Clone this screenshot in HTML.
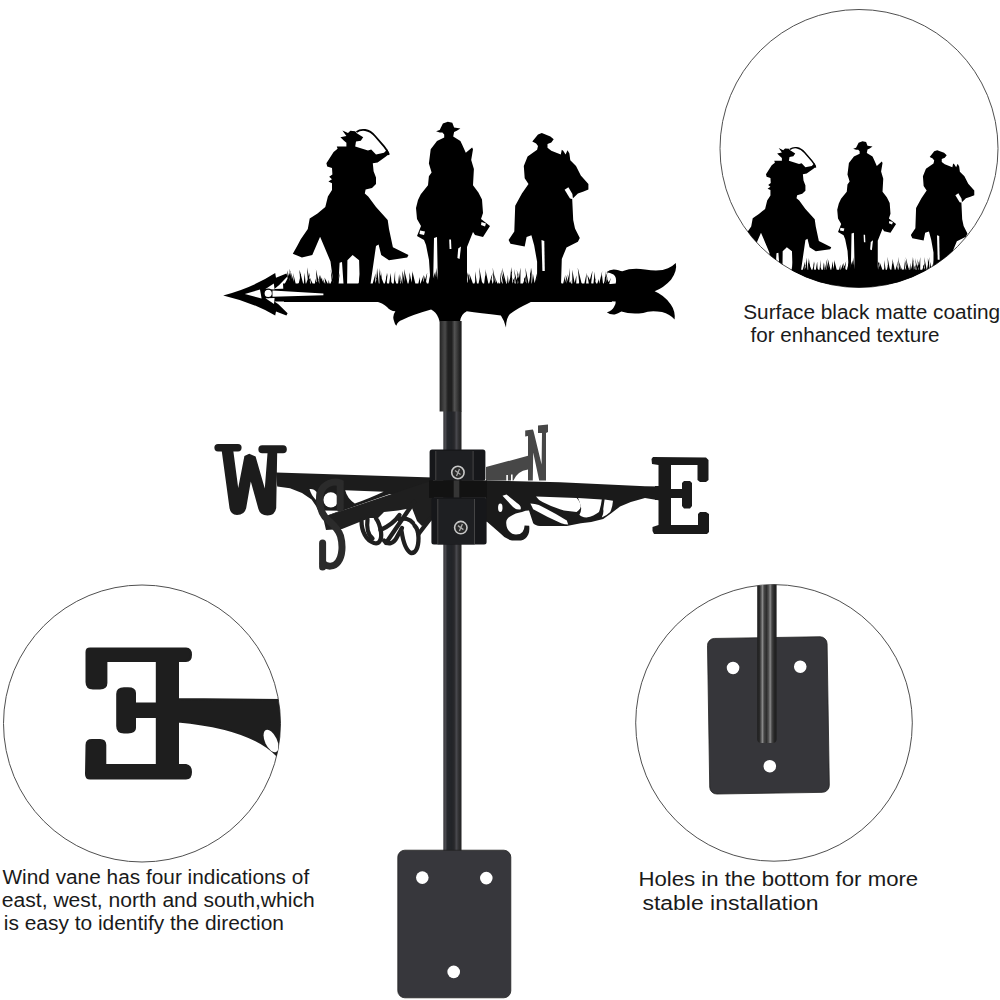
<!DOCTYPE html>
<html><head><meta charset="utf-8">
<style>
html,body{margin:0;padding:0;background:#fff;width:1000px;height:1000px;overflow:hidden}
svg{display:block}
text{font-family:"Liberation Sans",sans-serif;fill:#1a1a1a}
</style></head>
<body>
<svg width="1000" height="1000" viewBox="0 0 1000 1000">
<defs>
  <clipPath id="c1"><circle cx="859" cy="148.5" r="139"/></clipPath>
  <clipPath id="c2"><circle cx="142" cy="723.5" r="138.5"/></clipPath>
  <clipPath id="c3"><circle cx="774" cy="722.9" r="138.3"/></clipPath>
  <linearGradient id="pipe" x1="0" x2="1" y1="0" y2="0">
    <stop offset="0" stop-color="#3a3a3e"/><stop offset="0.12" stop-color="#48484d"/><stop offset="0.22" stop-color="#26282c"/><stop offset="0.45" stop-color="#222428"/><stop offset="0.6" stop-color="#28282b"/><stop offset="0.72" stop-color="#48484d"/><stop offset="0.85" stop-color="#303032"/><stop offset="1" stop-color="#222"/>
  </linearGradient>
  <linearGradient id="pipe2" x1="0" x2="1" y1="0" y2="0">
    <stop offset="0" stop-color="#222"/><stop offset="0.15" stop-color="#3c3c3c"/><stop offset="0.25" stop-color="#4a4a4a"/><stop offset="0.38" stop-color="#202020"/><stop offset="0.55" stop-color="#202020"/><stop offset="0.68" stop-color="#525252"/><stop offset="0.8" stop-color="#3a3a3a"/><stop offset="0.9" stop-color="#252525"/><stop offset="1" stop-color="#1c1c1c"/>
  </linearGradient>
  <linearGradient id="pipe3" x1="0" x2="1" y1="0" y2="0">
    <stop offset="0" stop-color="#1e1e1e"/><stop offset="0.12" stop-color="#2a2a2a"/><stop offset="0.2" stop-color="#555"/><stop offset="0.27" stop-color="#8a8a8a"/><stop offset="0.36" stop-color="#444"/><stop offset="0.48" stop-color="#2e2e2e"/><stop offset="0.6" stop-color="#555"/><stop offset="0.67" stop-color="#8a8a8a"/><stop offset="0.76" stop-color="#444"/><stop offset="0.88" stop-color="#262626"/><stop offset="1" stop-color="#1e1e1e"/>
  </linearGradient>
  <g id="riders">
    <!-- rider 1 -->
    <path d="M342.4,130.4 L346.4,136 L340.4,137.2 L344,140.8 L346.4,142.8 L346.4,146.4 L336.8,146.4 L337.6,148.8 L333.6,152 L326.4,163.2 L327.2,166.4 L332,168 L332.4,174.4 L329.2,176.8 L332,179.2 L328.4,181.6 L332,183.2 L332,190 L327.9,196.5 L325.3,206.9 L317.5,213.4 L309.7,218.6 L307.8,229 L300.6,239.4 L298,244.6 L292.8,253.7 L301.9,257.6 L312.3,255 L320.1,236.8 L324,245.9 L330.5,261.5 L334.4,291 L338,291 L339.6,262.8 L342,262 L344,291 L347,291 L347.4,260.2 L352.6,255 L359.1,260.2 L360,291 L369.5,291 L376,245.9 L378.6,244.6 L381.2,255 L389,260.2 L407.2,257.6 L408.5,255 L392.9,247.2 L389,229 L387.7,219.9 L376,206.9 L368.2,196.5 L364.8,193.6 L365.6,189.6 L372,188 L376,184 L376,177.6 L373.6,171.2 L372.8,163.2 L377.6,162.4 L385.6,156.8 L389.6,153.6 L387.2,149.6 L384,152.8 L376,154.4 L371.2,149.6 L368,150.4 L355.2,146.4 L356,141.6 L360.8,140.8 L363.2,137.2 L356.8,133.2 L355.2,131.2 L350.4,130.8 L348,133 Z"/>
    <path d="M356.5,132 C361,128.5 369,128.8 375,136 L384,146.4 Q388,151 388.8,155" fill="none" stroke="#000" stroke-width="1.8"/>
    <!-- rider 2 -->
    <path d="M436.1,131.2 L439.7,129.9 L442.9,123.6 L447.8,121.8 L452.3,122.7 L454.1,127.6 L460.4,128.5 L456.8,130.8 L454.1,132.1 L453.2,136.6 L460.4,141.1 L462.2,144.7 L465.8,152.8 L472.1,147.4 L473,149.2 L471.2,160 L473.9,169 L473,185.2 L478.4,192.4 L482,199.6 L483,213 L481,219 L490,226 L483,237 L475,235 L473,232 L467,247 L467,291 L438,291 L437,237 L434,238 L433,291 L428,291 L430,275 L429,260 L426,245 L424,240 L417,236 L419,231 L421,226 L417,219 L416,208 L418,200 L420.8,194.2 L428,185.2 L428.9,176.2 L431.6,172.6 L428.9,163.6 L430.7,149.2 L437,141.1 L444.2,137.5 L444.2,134.4 L442.4,132.6 L439.7,132.6 Z"/>
    <!-- rider 3 -->
    <path d="M532.3,141.6 L538,134.5 L541.8,133.1 L550.4,136.4 L553.7,139.3 L551.3,142.6 L547.5,144 L547.5,147.8 L551.3,150.7 L560.8,154.5 L561.8,149.7 L563.2,150.7 L565.6,154.5 L567.5,150.2 L569.4,153.5 L570.3,160.2 L576,165.9 L580.8,175.4 L588.4,183.9 L588.4,189.6 L583.6,191.5 L577.9,193.4 L572.2,199.1 L573.2,220 L575,228.5 L579.8,238 L577.9,241.8 L566.5,247.5 L561.8,258.9 L560.8,291 L537.1,291 L537.1,261.8 L534.2,245.6 L531.4,235.2 L526.6,237 L524.7,246.6 L510.5,243.7 L508.6,239.9 L514.3,231.4 L515.2,205.7 L521.9,193.4 L528.5,183.9 L524.7,178.2 L523.8,165.9 L527.6,156.4 L537.1,149.7 L538,145.9 L536.1,143.5 Z"/>
    <!-- small white details -->
    <g fill="#fff">
      <path d="M541.5,240 L544.3,241 L544.8,271 L542.4,271 Z"/>
      <path d="M564.6,189.8 L568.4,187.2 L572.4,194 L573,199.2 L570,198.4 Z"/>
      <path d="M449.2,239.5 L451,239.5 L451.4,249 L449.6,249 Z"/>
      <path d="M458.2,248.5 L461,246.5 L459.6,259 L457.4,258 Z"/>
      <path d="M420,230.5 L425,231.5 L424,235 L419.5,234 Z"/>
      <path d="M481.5,222 L486,223.5 L485,226.5 L481,225 Z"/>
    </g>
    <!-- grass band -->
    <path d="M283.0,287 L288.1,277.6 L286.0,287 Z M285.2,287 L290.5,270.3 L288.8,287 Z M287.6,287 L287.4,270.3 L291.2,287 Z M289.9,287 L289.6,268.5 L292.9,287 Z M292.2,287 L291.0,272.6 L295.5,287 Z M294.4,287 L293.1,273.1 L296.5,287 Z M295.5,287 L301.1,279.7 L299.3,287 Z M297.9,287 L301.0,273.6 L301.1,287 Z M300.4,287 L299.5,269.5 L304.0,287 Z M302.2,287 L299.2,271.2 L304.1,287 Z M303.5,287 L304.6,272.7 L306.0,287 Z M304.9,287 L310.1,272.4 L307.7,287 Z M306.2,287 L310.1,278.1 L309.5,287 Z M308.1,287 L307.0,267.3 L311.0,287 Z M310.4,287 L315.0,283.6 L312.6,287 Z M311.7,287 L309.8,277.4 L314.2,287 Z M313.4,287 L318.7,278.2 L316.8,287 Z M315.1,287 L315.0,278.4 L317.6,287 Z M317.0,287 L315.9,269.2 L319.9,287 Z M318.4,287 L316.7,279.0 L320.5,287 Z M319.4,287 L319.1,274.8 L323.1,287 Z M321.8,287 L320.0,275.0 L325.3,287 Z M324.5,287 L322.5,277.9 L326.4,287 Z M325.8,287 L324.5,277.5 L329.5,287 Z M328.0,287 L328.7,279.8 L330.1,287 Z M329.7,287 L331.4,280.7 L333.2,287 Z M332.2,287 L330.7,269.8 L334.9,287 Z M333.8,287 L335.7,281.8 L337.6,287 Z M335.9,287 L339.9,272.5 L337.9,287 Z M356.0,287 L359.0,282.2 L359.4,287 Z M358.4,287 L359.6,274.0 L360.9,287 Z M360.2,287 L363.0,273.6 L363.4,287 Z M362.3,287 L364.6,273.8 L364.1,287 Z M363.4,287 L363.9,277.6 L366.9,287 Z M365.7,287 L370.1,280.1 L369.0,287 Z M368.2,287 L369.9,283.7 L371.4,287 Z M370.2,287 L371.1,283.6 L372.4,287 Z M371.7,287 L375.6,273.2 L374.9,287 Z M373.8,287 L377.6,276.4 L377.0,287 Z M375.9,287 L377.1,268.1 L379.2,287 Z M378.1,287 L375.6,276.4 L380.4,287 Z M379.5,287 L379.2,267.9 L381.8,287 Z M380.7,287 L380.8,270.3 L382.8,287 Z M382.1,287 L379.6,273.3 L385.1,287 Z M383.9,287 L387.7,272.8 L386.2,287 Z M385.2,287 L386.5,272.7 L387.1,287 Z M386.3,287 L387.1,282.9 L389.3,287 Z M388.5,287 L390.8,273.0 L391.6,287 Z M390.5,287 L391.2,281.7 L394.2,287 Z M393.3,287 L395.1,271.0 L395.1,287 Z M394.2,287 L395.2,280.3 L397.3,287 Z M395.8,287 L400.7,280.3 L398.2,287 Z M397.7,287 L399.1,273.9 L400.7,287 Z M399.5,287 L399.0,281.0 L401.9,287 Z M401.0,287 L400.3,275.1 L403.0,287 Z M402.4,287 L402.4,270.7 L405.9,287 Z M405.1,287 L404.0,268.9 L408.5,287 Z M407.8,287 L410.1,275.3 L410.2,287 Z M409.4,287 L409.4,272.3 L412.7,287 Z M411.5,287 L412.4,270.7 L413.9,287 Z M412.9,287 L412.6,272.3 L416.2,287 Z M414.9,287 L412.8,281.3 L418.5,287 Z M417.5,287 L419.9,277.0 L420.2,287 Z M419.2,287 L423.8,274.7 L422.8,287 Z M421.0,287 L424.9,278.4 L423.4,287 Z M422.7,287 L427.3,272.5 L425.4,287 Z M424.0,287 L424.1,275.5 L426.8,287 Z M425.4,287 L424.8,278.4 L428.4,287 Z M427.6,287 L431.1,272.2 L431.0,287 Z M430.3,287 L434.9,272.3 L434.1,287 Z M432.3,287 L430.9,282.3 L435.4,287 Z M434.0,287 L435.1,271.3 L437.6,287 Z M435.8,287 L436.4,267.8 L438.9,287 Z M437.3,287 L441.3,277.2 L439.2,287 Z M438.2,287 L439.5,271.2 L440.9,287 Z M440.3,287 L438.8,271.9 L442.9,287 Z M461.0,287 L463.4,281.3 L463.8,287 Z M462.5,287 L464.1,272.3 L465.4,287 Z M464.0,287 L462.5,277.2 L466.2,287 Z M465.6,287 L463.8,271.7 L468.7,287 Z M467.1,287 L468.4,273.1 L470.1,287 Z M468.8,287 L466.9,272.1 L472.2,287 Z M470.5,287 L469.3,273.6 L474.2,287 Z M473.4,287 L476.0,278.8 L476.5,287 Z M475.2,287 L475.1,271.3 L477.5,287 Z M476.5,287 L480.0,281.9 L478.6,287 Z M477.8,287 L480.1,276.1 L481.3,287 Z M480.3,287 L479.2,267.2 L482.9,287 Z M481.5,287 L479.3,277.3 L485.0,287 Z M483.7,287 L485.2,275.0 L487.2,287 Z M485.4,287 L485.5,269.6 L487.5,287 Z M487.0,287 L485.3,268.9 L489.1,287 Z M488.2,287 L492.7,272.2 L490.4,287 Z M489.5,287 L491.1,276.7 L493.1,287 Z M492.3,287 L494.8,274.0 L494.4,287 Z M493.8,287 L492.7,267.2 L495.9,287 Z M494.8,287 L494.6,280.2 L497.4,287 Z M496.4,287 L494.9,277.0 L498.8,287 Z M497.7,287 L498.7,281.9 L500.8,287 Z M500.1,287 L500.3,272.5 L502.0,287 Z M501.0,287 L501.2,281.1 L503.9,287 Z M502.4,287 L506.8,280.9 L504.3,287 Z M503.3,287 L500.9,269.8 L505.6,287 Z M504.5,287 L502.1,267.4 L507.1,287 Z M506.6,287 L507.9,274.8 L508.8,287 Z M507.6,287 L512.2,270.8 L510.1,287 Z M509.2,287 L511.3,267.1 L512.7,287 Z M511.4,287 L514.7,276.4 L514.4,287 Z M513.7,287 L512.7,277.8 L516.1,287 Z M514.9,287 L518.6,272.4 L517.3,287 Z M516.2,287 L513.9,268.7 L518.3,287 Z M517.5,287 L520.5,267.4 L520.4,287 Z M518.8,287 L516.7,269.6 L521.0,287 Z M520.1,287 L524.5,281.3 L522.6,287 Z M521.8,287 L526.0,275.1 L525.1,287 Z M524.0,287 L524.0,276.9 L527.8,287 Z M526.8,287 L525.4,267.5 L529.3,287 Z M528.2,287 L531.8,267.4 L531.3,287 Z M530.2,287 L530.0,267.9 L532.0,287 Z M531.6,287 L532.9,273.6 L535.3,287 Z M533.7,287 L537.6,271.1 L536.2,287 Z M535.5,287 L538.1,273.2 L537.4,287 Z M536.7,287 L537.0,278.7 L540.3,287 Z M539.5,287 L543.0,275.1 L542.2,287 Z M557.0,287 L555.3,281.6 L559.9,287 Z M559.1,287 L556.7,273.8 L561.7,287 Z M560.8,287 L559.9,280.4 L563.6,287 Z M562.3,287 L565.4,274.5 L564.5,287 Z M563.5,287 L567.5,273.9 L566.0,287 Z M565.4,287 L569.6,273.0 L568.4,287 Z M567.3,287 L570.0,267.7 L569.1,287 Z M568.7,287 L571.3,279.9 L570.9,287 Z M570.4,287 L568.0,280.3 L573.4,287 Z M572.3,287 L572.3,269.7 L575.3,287 Z M573.6,287 L576.5,275.3 L576.1,287 Z M575.1,287 L578.5,283.5 L578.8,287 Z M577.7,287 L579.8,280.2 L580.5,287 Z M579.6,287 L577.7,267.5 L582.5,287 Z M581.3,287 L581.2,282.3 L584.2,287 Z M583.6,287 L586.8,272.5 L585.9,287 Z M585.2,287 L589.7,282.1 L588.9,287 Z M587.8,287 L592.5,270.6 L590.8,287 Z M589.4,287 L587.3,274.8 L593.2,287 Z M591.6,287 L596.0,278.3 L593.8,287 Z M593.0,287 L594.8,271.8 L595.6,287 Z M594.8,287 L594.6,279.3 L597.4,287 Z M596.2,287 L598.8,279.0 L599.3,287 Z M598.4,287 L602.2,271.0 L600.7,287 Z M600.1,287 L602.0,275.0 L603.4,287 Z M602.6,287 L607.6,271.2 L605.0,287 Z M603.9,287 L605.6,270.9 L605.7,287 Z M604.8,287 L607.4,276.5 L607.0,287 Z M606.4,287 L611.0,277.8 L608.3,287 Z M607.4,287 L607.0,278.5 L610.9,287 Z M283,283.5 L608,283.5 L612,302 L284,302 Z"/>
  </g>
</defs>

<!-- circles -->
<circle cx="859" cy="148.5" r="139" fill="none" stroke="#505050" stroke-width="1"/>
<circle cx="142" cy="723.5" r="138.5" fill="none" stroke="#505050" stroke-width="1"/>
<circle cx="774" cy="722.9" r="138.3" fill="none" stroke="#505050" stroke-width="1"/>

<!-- main vane top -->
<g fill="#000">
  <use href="#riders"/>
  <!-- arrowhead -->
  <path d="M223.2,295.4 Q252,288 275.2,273 L276,277.8 L286.4,273.4 L287.6,276.2 L279.2,285 L274.4,289 L290,288.6 L290,301.6 L274.4,301.4 L278.4,304.2 L287.6,313.2 L286.4,315.6 L276,311.4 L275.2,315.6 Q252,302 223.2,295.4 Z"/>
  <path d="M244.8,294 L260,289.5 L261.6,298.6 Z" fill="#fff"/>
  <path d="M265.5,289 L273.8,283.6 L274.6,289.4 Z" fill="#fff"/>
  <path d="M265.5,298.2 L274.6,298 L274,304 Z" fill="#fff"/>
  <circle cx="268.2" cy="293.4" r="4.2" fill="#fff" stroke="#000" stroke-width="1.2"/>
  <path d="M272.5,290.6 L323.4,293.4 L323.4,295.2 L272.5,296.8 Z" fill="#fff"/>
  <!-- tail -->
  <path d="M590,286 L615.7,283.5 Q617,277 613.5,274.5 Q610,272.8 606.4,272.3 Q611,268 618.5,270.2 Q621,271 622.3,271.2 Q632,267.5 645,269.5 Q660,272 668,268.3 Q673,266 675.8,263.1 Q677.5,271 671,279.7 Q664,287.5 654.6,291.3 Q664,295 670.8,304.4 Q675.5,311 674.6,319.6 Q670,314 662,312 Q650,310 643.2,313 Q630,314.5 621.4,311.5 Q618,313.5 614.7,314.4 Q610,314.8 606.8,312.2 Q612,311 614,307 Q616,304 615.7,301.6 L590,300.6 Z"/>
  <!-- ornament under -->
  <path d="M368,299 L375,301 Q383,303 387,307 Q390,311 395.4,311.3 Q392,316 394,321 Q395,325 396.3,325.7 Q398,321 402,320 Q412,315 431.1,309.6 Q436,312 438.5,318 L439.6,321.5 L460,321.5 Q461,314 466.8,311.3 Q480,313 500.9,315.5 Q504,320 506,327.4 Q506,318 510,314 Q520,307 528,303.6 Q534,300 545,296.8 L550,295 L368,295 Z"/>
</g>

<!-- top-right circle content -->
<g clip-path="url(#c1)">
  <use href="#riders" transform="matrix(0.795,0,0,0.795,506.5,44.4)"/>
  <rect x="700" y="270" width="300" height="40" fill="#000"/>
</g>

<!-- pole -->
<rect x="443.3" y="411" width="18.2" height="445" fill="url(#pipe)"/>
<rect x="439.6" y="321" width="22" height="90.5" fill="url(#pipe2)"/>

<!-- ===== compass ===== -->
<!-- N arm + N (gray, behind) -->
<g fill="#474747">
  <path d="M486,467 L528,455.8 L528,469.4 Q517,471 513.4,480.6 L486,480.6 Z"/>
  <path d="M528,480.6 L528,436 L525.2,436.6 L525.2,430.5 L532.8,429.4 L533.5,431 L541.6,464.6 L542,433 L538,433 L538,425.5 L548,424.6 L548,432 L546,433 L546,480.6 L539.2,480.6 L533.2,452.6 L532.8,480.6 Z"/>
</g>
<g fill="#fff"><rect x="506.3" y="475" width="1.6" height="6"/><rect x="511" y="474.5" width="1.6" height="6.5"/></g>
<!-- W arm bar (behind S) -->
<path fill="#1c1c1c" d="M276,472.6 L433,477.6 L433,500 L390,494 L326,516.4 L320,514 L316,506 L311.6,499.4 L302,493 L290,488.2 L277.2,486.6 Z"/>
<g fill="#fff">
  <path d="M309.5,489 Q314,488.5 316.5,492 L316,500 Q311,495 309.5,489 Z"/>
  <ellipse cx="330.8" cy="499.8" rx="7.4" ry="7.6"/>
  <path d="M345.2,490.2 L383.6,491.8 Q368,499 354.8,503.6 Q347,498 345.2,490.2 Z"/>
  <path d="M322.5,510.5 L340,510.8 L324,516.8 Z"/>
</g>
<!-- S arm (diagonal, front) with filigree -->
<path fill="#1f1f1f" d="M323,517 L429,481.5 L434,481 L434,519 L422,526 L417,521 L412,508 L398,510.5 L384,512 L378,518 L370,518 L362,521 L342,529 L326,530 Z"/>
<g fill="none" stroke="#1f1f1f" stroke-width="4.3" stroke-linecap="round">
  <path d="M361.5,521 C361.5,531 366,540.5 374,543 C379,544.5 382,540 381,532 C380,526 378,521 376,518.5"/>
  <path d="M367.5,519.5 C366.5,527 368,535 372.5,538.5"/>
  <path d="M380.5,530 C386,527.5 394,523 399.5,515"/>
  <path d="M386,543 L414,502"/>
  <path d="M384,540.5 C388,545 393.5,544 397,537 C399,533 401,530 402,528"/>
  <path d="M401.5,531 C403,541 406,550.5 411,553 C416,553.5 418.5,547 418.5,538 C418.5,532 417,528 414.5,525.5"/>
  <path d="M399.5,519.5 C404,517.5 410,519 413,523"/>
  <path d="M418.5,534 L430,519"/>
</g>
<!-- S letter -->
<g fill="none" stroke="#2b2b2b" stroke-width="7" stroke-linecap="round">
  <path d="M340.2,508 L340.2,483 C333.5,480 323.5,484 320.8,492 C318.5,500 319.5,510 325,517 C330,522.5 338,527 340.5,536 C343,545 342.5,556 338,562 C334,567.5 327,567 323.2,563.5"/>
  <path d="M322.6,543 L322.6,567"/>
</g>
<!-- E arm -->
<path fill="#1a1a1a" d="M486,480.6 L560,482.2 L645,486.3 L660,486.5 L660,500.6 L645,498 Q632,501 620,506.4 Q612,513 603.2,519 Q592,522.5 580.8,523.2 L566.8,526 L540,526 Q535,525.5 533.2,523.2 L529,510.6 Q526,510.5 522,512 Q515,513 511,516 Q506,518.5 506.2,523 Q506.5,528.5 509,531 Q512,534.5 516,534.6 Q520.5,534.5 522.5,532 Q524.5,529 524.6,525.6 L529.2,525.8 Q529.8,531 528.3,534.6 Q526,539.5 521,540.6 L512,540.6 Q505,539 500.5,533.5 L487,521.8 L486,521.8 Z"/>
<g fill="#fff">
  <ellipse cx="500.3" cy="507.8" rx="2.2" ry="4.2"/>
  <path d="M502.5,495.8 L506.5,494.5 L517,503 Q522,506 520.5,509.5 Q516,510 513,507 Z"/>
  <path d="M536,496.6 L576.6,498 Q580,501 580.8,506.4 Q580,510 576.6,512 Q570,511.5 564,510.6 Q552,507 543,502.2 Q538,500 536,496.6 Z"/>
  <path d="M530.4,503.6 Q535,504 538.8,505 Q553,512 566.8,520.4 L568.2,524.6 Q565,524.5 561.2,523.2 Q547,517 533.2,509.2 Z"/>
  <path d="M578,498 L601.8,499.4 Q601,506 599,512 Q594,516 586.4,517.6 Q581,517 579.4,514.8 Q582,510 580.8,506.4 Q580,502 578,498 Z"/>
  <path d="M604.6,499.4 L613,500.8 Q612.5,507 610.2,512 Q606,516 601.8,517.6 Q604,513 603.2,509.2 Z"/>
</g>
<!-- E letter -->
<path fill="#1a1a1a" d="M653,457 L706,457.5 L708.5,460 L708.5,480 L706,482 L700,482 L697.5,480 L697.5,465 L671,465 L671,489 L682,489 L682,483 L684,481 L690,481 L692,483 L692,506 L690,508.5 L684,508.5 L682,506 L682,498 L671,498 L671,525 L698,525 L698,514 L700,512 L706,512 L709,514 L709,532 L707,534 L654,534 L652.5,531 L652.5,527 L658.5,525 L658.5,500 L655,500 L655,486 L658.5,486 L658.5,465 L652,464 L651.5,459 Z"/>
<!-- W letter -->
<g fill="#1c1c1c">
  <rect x="214.4" y="444" width="27.2" height="7.4" rx="3.6"/>
  <rect x="258.4" y="445.2" width="28.4" height="8" rx="3.8"/>
  <path d="M221.6,450 L233.2,450 L238.2,488 L244.4,456 L249.2,453.8 L255.6,456.5 L264.8,488.4 L267.6,452 L277.2,452 L276.2,508 Q275,515.5 267.5,515.5 Q260,515 258.4,509 L250.8,481.4 L246.2,508 Q244.5,515 237,515 Q230.5,514.5 229.5,508 Z"/>
</g>
<!-- bracket -->
<rect x="429.6" y="449.6" width="55.8" height="31.2" rx="2.5" fill="#16171a"/>
<rect x="435.6" y="450.8" width="37.7" height="29.6" fill="#1e1f22"/>
<path d="M435.8,451 L435.8,480 M473.1,451 L473.1,480" stroke="#4a4a4a" stroke-width="0.9"/>
<rect x="429" y="480.4" width="58" height="17.5" fill="#121212"/>
<rect x="453.7" y="480.4" width="5.6" height="17.5" fill="#353535"/>
<rect x="431.4" y="497.6" width="55.2" height="46.8" rx="2.5" fill="#16171a"/>
<rect x="437.6" y="498.8" width="37.1" height="45.6" fill="#1e1f22"/>
<path d="M437.8,499 L437.8,544 M474.5,499 L474.5,544" stroke="#4a4a4a" stroke-width="0.9"/>
<circle cx="457.9" cy="472.5" r="6.2" fill="#2a2a2a" stroke="#c8c8c8" stroke-width="1.6"/>
<circle cx="460.8" cy="527.6" r="6.2" fill="#2a2a2a" stroke="#c8c8c8" stroke-width="1.6"/>
<path d="M455,470.5 L460.5,474.5 M459.5,469 L456.5,476" stroke="#aaa" stroke-width="1.3"/>
<path d="M457.9,525.6 L463.4,529.6 M462.4,524.1 L459.4,531.1" stroke="#aaa" stroke-width="1.3"/>

<!-- bottom plate -->
<rect x="397.8" y="850.2" width="113" height="147.6" rx="7" fill="#37373c" stroke="#222" stroke-width="0.8"/>
<circle cx="422.3" cy="877.6" r="6.3" fill="#fff"/>
<circle cx="486.3" cy="878.1" r="6.3" fill="#fff"/>
<circle cx="453.7" cy="971.9" r="6.3" fill="#fff"/>

<!-- bottom-left circle: mirrored E -->
<g clip-path="url(#c2)" fill="#1e1e1e" stroke="#1e1e1e" stroke-width="2" stroke-linejoin="round">
  <path d="M86.5,652 Q86.5,648.6 90,648.6 L186,648.6 Q191,649 191,654.7 Q191,661 186,661 L178,661 L178,699 L290,700 L290,760 L276.8,755.4 Q250,728 178,721.5 L178,765 L186,765 Q191,766 191,772 Q191,778.6 186,778.6 L90,778.6 Q86,778.6 86,774 L86.5,745 Q86.5,740 92,740 L100,740 Q105.3,740 105.3,745 L105.3,765 L156.8,765 L156.8,717 L135,717 L135,728 Q135,732.4 128,732.4 L124,732.4 Q117.2,732.4 117.2,726 L117.2,694 Q117.2,688.2 124,688.2 L128,688.2 Q135,688.2 135,693 L135,703.6 L156.8,703.6 L156.8,661 L106.4,661 L106.4,683 Q106.4,688.4 100,688.4 L93,688.4 Q86.5,688.4 86.5,682 Z"/>
  <ellipse cx="271" cy="741" rx="6" ry="12" fill="#fff" stroke="none" transform="rotate(-25 271 741)"/>
</g>

<!-- bottom-right circle: plate -->
<g clip-path="url(#c3)">
  <g transform="rotate(-0.9 768.4 715)">
  <rect x="708.6" y="637.6" width="119.6" height="155.6" rx="7" fill="#36363a" stroke="#222" stroke-width="0.8"/>
  <circle cx="733.8" cy="667.4" r="6.3" fill="#fff"/>
  <circle cx="801" cy="667.2" r="6.3" fill="#fff"/>
  <circle cx="769" cy="766.2" r="6.3" fill="#fff"/>
  </g>
  <rect x="757.2" y="570" width="19.4" height="173" rx="4" fill="url(#pipe3)"/>
</g>

<!-- text -->
<g font-size="19.6">
  <text id="t1" x="743.20" y="319.2" textLength="257.00" lengthAdjust="spacingAndGlyphs">Surface black matte coating</text>
  <text id="t2" x="750.50" y="341.8" textLength="189.00" lengthAdjust="spacingAndGlyphs">for enhanced texture</text>
  <text id="t3" x="2.40" y="884" textLength="306.80" lengthAdjust="spacingAndGlyphs">Wind vane has four indications of</text>
  <text id="t4" x="1.80" y="907.3" textLength="313.00" lengthAdjust="spacingAndGlyphs">east, west, north and south,which</text>
  <text id="t5" x="3.80" y="929.6" textLength="280.20" lengthAdjust="spacingAndGlyphs">is easy to identify the direction</text>
  <text id="t6" x="638.40" y="885.5" textLength="279.80" lengthAdjust="spacingAndGlyphs">Holes in the bottom for more</text>
  <text id="t7" x="642.50" y="910.4" textLength="176.00" lengthAdjust="spacingAndGlyphs">stable installation</text>
</g>
</svg>
</body></html>
